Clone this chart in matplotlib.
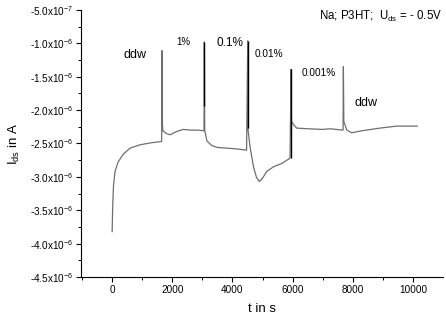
import matplotlib
matplotlib.use("Agg")
import matplotlib.pyplot as plt
from matplotlib.ticker import MultipleLocator

plt.rcParams['font.family'] = ['Liberation Sans', 'DejaVu Sans']
plt.rcParams['mathtext.fontset'] = 'custom'
plt.rcParams['mathtext.rm'] = 'Liberation Sans'
plt.rcParams['mathtext.it'] = 'Liberation Sans'

# time in s, current in A
t = [5, 15, 30, 50, 100, 200, 375, 600, 930, 1300, 1650,
     1662, 1672, 1690, 1800, 1930, 2150, 2370, 2600, 2850, 3055,
     3068, 3080, 3150, 3310, 3500, 3800, 4100, 4470,
     4508, 4520, 4585, 4700, 4800, 4895, 5000, 5140, 5360, 5640, 5914,
     5947, 5960, 6050, 6135, 6500, 7000, 7240, 7675,
     7685, 7700, 7800, 7960, 8300, 8900, 9460, 10140]
i_ds = [-3.82e-6, -3.6e-6, -3.35e-6, -3.13e-6, -2.92e-6, -2.78e-6, -2.66e-6, -2.57e-6, -2.52e-6, -2.49e-6, -2.47e-6,
        -1.11e-6, -2.20e-6, -2.31e-6, -2.35e-6, -2.37e-6, -2.32e-6, -2.29e-6, -2.30e-6, -2.30e-6, -2.31e-6,
        -0.98e-6, -2.30e-6, -2.46e-6, -2.53e-6, -2.56e-6, -2.57e-6, -2.58e-6, -2.60e-6,
        -0.96e-6, -2.30e-6, -2.55e-6, -2.85e-6, -3.01e-6, -3.07e-6, -3.02e-6, -2.92e-6, -2.85e-6, -2.80e-6, -2.72e-6,
        -1.39e-6, -2.17e-6, -2.23e-6, -2.27e-6, -2.28e-6, -2.29e-6, -2.28e-6, -2.30e-6,
        -1.35e-6, -2.17e-6, -2.30e-6, -2.34e-6, -2.31e-6, -2.27e-6, -2.24e-6, -2.24e-6]

# dense bursts at the injection spikes
burst_t = [3068, 4508, 5947]
burst_lo = [-1.94e-6, -2.27e-6, -2.72e-6]
burst_hi = [-0.98e-6, -0.96e-6, -1.39e-6]

labels = ['ddw', '1%', '0.1%', '0.01%', '0.001%', 'ddw']
label_t = [760, 2370, 3920, 5215, 6880, 8430]
label_i = [-1.17e-6, -0.98e-6, -1.0e-6, -1.16e-6, -1.44e-6, -1.89e-6]
label_size = [9, 7, 8.5, 7.2, 7.2, 9]

yticks = [-5e-7, -1e-6, -1.5e-6, -2e-6, -2.5e-6, -3e-6, -3.5e-6, -4e-6, -4.5e-6]
ytick_labels = ['-5.0x10$^{-7}$', '-1.0x10$^{-6}$', '-1.5x10$^{-6}$', '-2.0x10$^{-6}$',
                '-2.5x10$^{-6}$', '-3.0x10$^{-6}$', '-3.5x10$^{-6}$', '-4.0x10$^{-6}$',
                '-4.5x10$^{-6}$']

fig = plt.figure(figsize=(4.46, 3.2), dpi=100)
ax = fig.add_axes([0.1816, 0.1344, 0.8114, 0.8346])

ax.plot(t, i_ds, color='#6e6e6e', lw=0.9)
ax.vlines(burst_t, burst_lo, burst_hi, color='black', lw=1.0)

for lab, x, y, s in zip(labels, label_t, label_i, label_size):
    ax.text(x, y, lab, fontsize=s, ha='center', va='center')

ax.text(0.997, 0.975, 'Na; P3HT;  U$_{ds}$ = - 0.5V', transform=ax.transAxes,
        ha='right', va='center', fontsize=8.3)

ax.set_xlim(-1030, 10990)
ax.set_ylim(-4.5e-6, -5e-7)
ax.set_xticks([0, 2000, 4000, 6000, 8000, 10000])
ax.xaxis.set_minor_locator(MultipleLocator(1000))
ax.set_yticks(yticks)
ax.set_yticklabels(ytick_labels)
ax.yaxis.set_minor_locator(MultipleLocator(2.5e-7))

ax.spines['top'].set_visible(False)
ax.spines['right'].set_visible(False)
ax.tick_params(which='major', direction='out', length=3.5, width=0.8, labelsize=7.2, pad=2)
ax.tick_params(which='minor', direction='out', length=2, width=0.7)

ax.set_xlabel('t in s', fontsize=9.5, labelpad=6)
ax.set_ylabel('I$_{ds}$ in A', fontsize=9.5, labelpad=6)

fig.savefig('out.png', dpi=100)
